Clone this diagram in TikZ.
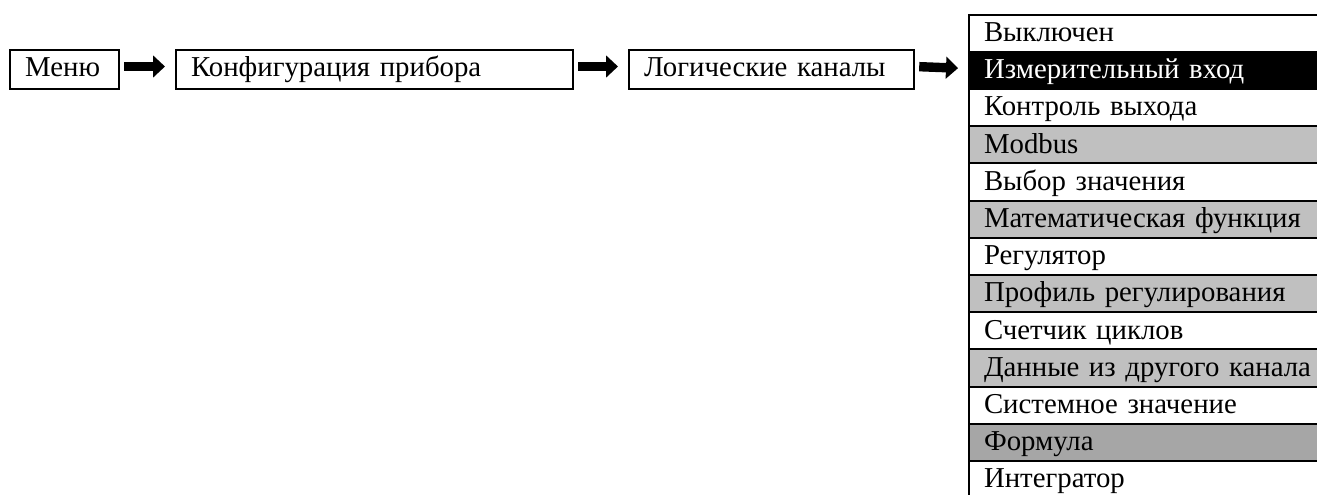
\documentclass[tikz,border=0pt]{standalone}
\usepackage{fontspec}
\setmainfont{Liberation Serif}
\usetikzlibrary{arrows.meta}

\definecolor{rowgray}{RGB}{192,192,192}
\definecolor{rowdark}{RGB}{166,166,166}

\begin{document}
\begin{tikzpicture}[
    x=0.5pt, y=-0.5pt,
    font=\fontsize{14.4pt}{17pt}\selectfont,
    >={Triangle[length=6pt, width=10.8pt]},
    link/.style = {->, line width=4.7pt, shorten <=2pt, shorten >=5pt},
    box/.style  = {draw, line width=1.1pt, anchor=west, inner xsep=7.5pt,
                   minimum height=19.5pt, text height=10.2pt, text depth=3pt,
                   text width=#1},
    item/.style = {draw, line width=1pt, anchor=north west, inner xsep=7.5pt,
                   minimum height=18.6pt, text height=10.2pt, text depth=3pt,
                   text width=240pt}
]
\useasboundingbox (0,0) rectangle (1317,494);
\clip (0,0) rectangle (1317,494);

% Menu path
\node[box=39.5pt]  (menu)     at (9, 69.5)   {Меню};
\node[box=183.5pt] (config)   at (175, 69.5) {Конфигурация прибора};
\node[box=127.5pt] (channels) at (628, 69.5) {Логические каналы};

% Channel types
\foreach \txt/\bg/\fg [count=\i from 0] in {
    Выключен/white/black,
    Измерительный вход/black/white,
    Контроль выхода/white/black,
    Modbus/rowgray/black,
    Выбор значения/white/black,
    Математическая функция/rowgray/black,
    Регулятор/white/black,
    Профиль регулирования/rowgray/black,
    Счетчик циклов/white/black,
    Данные из другого канала/rowgray/black,
    Системное значение/white/black,
    Формула/rowdark/black,
    Интегратор/white/black}
    \node[item, fill=\bg, text=\fg] (type\i) at (968, 13.5+37.2*\i) {\txt};

% Arrows
\draw[link] ([yshift=1.5pt]menu.east) -- ([yshift=1.5pt]config.west);
\draw[link] ([yshift=1.5pt]config.east) -- ([yshift=1.5pt]channels.west);
\draw[link] ([yshift=1.5pt]channels.east) -- ([yshift=1.5pt]type1.west);

\end{tikzpicture}
\end{document}
